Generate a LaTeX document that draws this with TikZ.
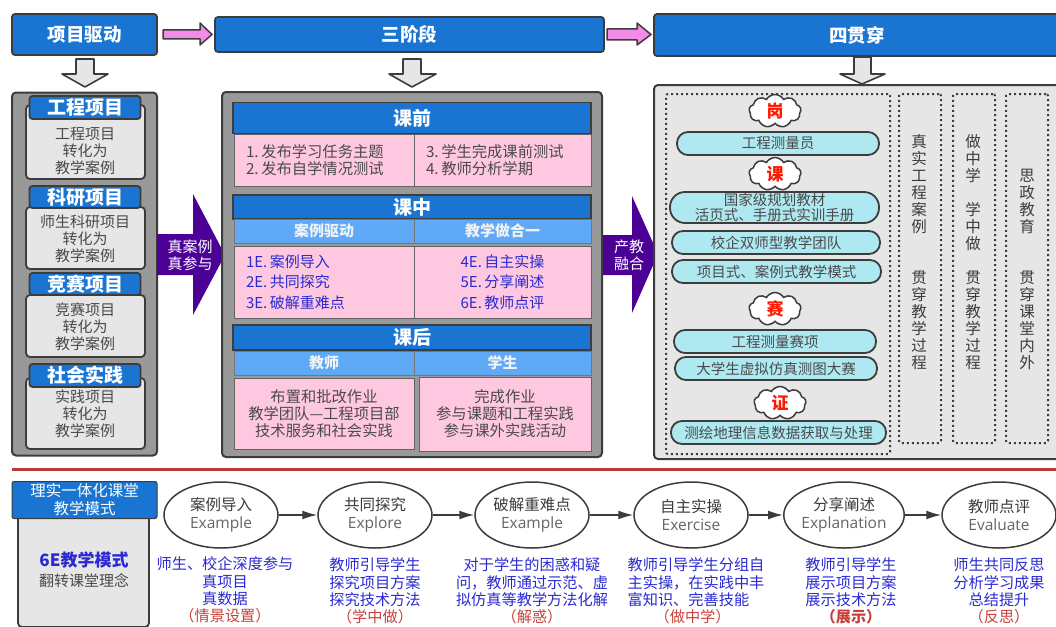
\documentclass[tikz,border=0pt]{standalone}
\usepackage{fontspec}
\setmainfont{Noto Sans CJK SC}
\newfontfamily\enfont{Open Sans}
\usetikzlibrary{shapes.geometric,shapes.symbols,arrows.meta}

\definecolor{boxline}{HTML}{3C3C3C}
\definecolor{headblue}{HTML}{1A75D2}
\definecolor{lightblue}{HTML}{5FA9F6}
\definecolor{panelgray}{HTML}{999999}
\definecolor{softgray}{HTML}{E6E6E6}
\definecolor{cellpink}{HTML}{FFC8E1}
\definecolor{pillcyan}{HTML}{AEE9F2}
\definecolor{bandpurple}{HTML}{4B0096}
\definecolor{arrowpink}{HTML}{F28CE6}
\definecolor{inkgray}{HTML}{4A4A4A}
\definecolor{inkblue}{HTML}{2A2AD2}
\definecolor{inkred}{HTML}{C8403C}

\tikzset{
    topbox/.style={draw=boxline, line width=1.8pt, rounded corners=3pt, fill=headblue, text=white, inner sep=0pt, font=\bfseries\fontsize{18.5}{20}\selectfont},
    tagbox/.style={topbox, font=\bfseries\fontsize{19}{21}\selectfont},
    panel/.style={draw=boxline, line width=2pt, rounded corners=4pt, fill=panelgray, inner sep=0pt},
    softbox/.style={draw=boxline, line width=1.8pt, rounded corners=4pt, fill=softgray, inner sep=0pt},
    plaintext/.style={inner sep=0pt, align=center, text=inkgray, font=\fontsize{15}{17}\selectfont},
    stagebar/.style={draw=boxline, line width=1.5pt, fill=headblue, text=white, inner sep=0pt, font=\bfseries\fontsize{19}{21}\selectfont},
    subbar/.style={draw=boxline!70, line width=1pt, fill=lightblue, text=white!90!gray, inner sep=0pt, font=\bfseries\fontsize{15}{17}\selectfont},
    cell/.style={draw=boxline!80, line width=1pt, fill=cellpink, inner sep=0pt, align=center, text=inkgray, font=\fontsize{15.3}{17}\selectfont},
    leftcell/.style={cell, align=left},
    bluecell/.style={cell, text=inkblue, font=\fontsize{15}{20.5}\selectfont},
    pill/.style={draw=boxline, line width=1.8pt, rounded corners=11pt, fill=pillcyan, inner sep=0pt, align=center, text=inkgray, font=\fontsize{14.5}{15}\selectfont},
    badge/.style={cloud, cloud puffs=9, cloud puff arc=120, aspect=1.6, draw=boxline, line width=1.5pt, fill=white, inner sep=0pt, minimum width=52pt, minimum height=33pt, text=red!80!orange, font=\bfseries\fontsize{17}{19}\selectfont},
    dotbox/.style={draw=boxline, line width=2pt, dash pattern=on 2pt off 3pt, rounded corners=2pt, inner sep=0pt},
    upright/.style={inner sep=0pt, align=center, text=boxline, font=\fontsize{15.5}{17}\selectfont},
    step6e/.style={ellipse, draw=boxline, line width=1.5pt, fill=white, inner sep=0pt, minimum width=114pt, minimum height=66pt, align=center, text=boxline, font=\fontsize{15.5}{18}\selectfont},
    note/.style={inner sep=0pt, align=center, text=inkblue, font=\fontsize{15.2}{17.3}\selectfont},
    flow/.style={draw=boxline, line width=1.6pt, -{Latex[length=15pt,width=9pt]}},
    greyarrow/.style={draw=boxline, line width=1.6pt, fill=softgray, line join=round},
    pinkarrow/.style={draw=boxline, line width=1.5pt, fill=arrowpink, line join=round},
    purplearrow/.style={draw=none, fill=bandpurple},
}

\begin{document}
\begin{tikzpicture}[x=1pt,y=-1pt]
        \useasboundingbox (0,0) rectangle (1056,626);
        \clip (0,0) rectangle (1056,626);

        % Top row
        \node[topbox, minimum width=145pt, minimum height=41pt] (drive) at (84.5,34.5) {项目驱动};
        \node[topbox, minimum width=389pt, minimum height=35pt] (stages) at (409.5,34.5) {三阶段};
        \node[topbox, minimum width=406pt, minimum height=42pt] (threads) at (857,35) {四贯穿};
        \draw[pinkarrow] (163,30) -- (200,30) -- (200,23) -- (212,34.5) -- (200,45) -- (200,39) -- (163,39) -- cycle;
        \draw[pinkarrow] (607,29) -- (637,29) -- (637,23) -- (651,34.5) -- (637,45) -- (637,40) -- (607,40) -- cycle;
        \draw[greyarrow] (76,59) -- (94,59) -- (94,74) -- (108,74) -- (85,87) -- (62,74) -- (76,74) -- cycle;
        \draw[greyarrow] (403,59) -- (421,59) -- (421,74) -- (436,74) -- (412,87) -- (389,74) -- (403,74) -- cycle;
        \draw[greyarrow] (854,57) -- (871,57) -- (871,74) -- (885,74) -- (862,84) -- (840,74) -- (854,74) -- cycle;

        % Left panel
        \node[panel, minimum width=145pt, minimum height=363pt] (leftpanel) at (84.5,274) {};
        \node[softbox, minimum width=119pt, minimum height=74pt] (casebox) at (85.5,142) {};
        \node[tagbox, minimum width=111pt, minimum height=23pt] (casetag) at (85,107.5) {工程项目};
        \node[plaintext] (casetext) at (85,151) {工程项目\\转化为\\教学案例};
        \node[softbox, minimum width=119pt, minimum height=62pt] (researchbox) at (85.5,238) {};
        \node[tagbox, minimum width=111pt, minimum height=22pt] (researchtag) at (85,197) {科研项目};
        \node[plaintext] (researchtext) at (85,239) {师生科研项目\\转化为\\教学案例};
        \node[softbox, minimum width=119pt, minimum height=62pt] (contestbox) at (85.5,326) {};
        \node[tagbox, minimum width=111pt, minimum height=22pt] (contesttag) at (85,284) {竞赛项目};
        \node[plaintext] (contesttext) at (85,327) {竞赛项目\\转化为\\教学案例};
        \node[softbox, minimum width=119pt, minimum height=71pt] (socialbox) at (85.5,413.5) {};
        \node[tagbox, minimum width=111pt, minimum height=23pt] (socialtag) at (85,375.5) {社会实践};
        \node[plaintext] (socialtext) at (85,414) {实践项目\\转化为\\教学案例};

        % Purple arrows
        \draw[purplearrow] (157,234) -- (193,234) -- (193,194) -- (225,255) -- (193,315) -- (193,275) -- (157,275) -- cycle;
        \node[plaintext, text=white] (realcase) at (190,255.5) {真案例\\真参与};
        \draw[purplearrow] (602,235) -- (632,235) -- (632,196) -- (658,254) -- (632,313) -- (632,275) -- (602,275) -- cycle;
        \node[plaintext, text=white] (fusion) at (629,255.5) {产教\\融合};

        % Middle panel
        \node[panel, minimum width=380pt, minimum height=365pt] (midpanel) at (412,274.5) {};
        \node[stagebar, minimum width=358pt, minimum height=31pt] (before) at (412,118) {课前};
        \node[leftcell, text width=156pt, inner xsep=12pt, minimum height=52pt] (beforeleft) at (324,160) {1.\,发布学习任务主题\\2.\,发布自学情况测试};
        \node[leftcell, text width=153pt, inner xsep=12pt, minimum height=52pt] (beforeright) at (502.5,160) {3.\,学生完成课前测试\\4.\,教师分析学期};
        \node[stagebar, minimum width=358pt, minimum height=24pt] (during) at (412,207) {课中};
        \node[subbar, minimum width=180pt, minimum height=24pt] (caseled) at (324,231) {案例驱动};
        \node[subbar, minimum width=177pt, minimum height=24pt] (teachdo) at (502.5,231) {教学做合一};
        \node[bluecell, align=left, text width=156pt, inner xsep=12pt, minimum height=72pt] (duringleft) at (324,282) {1E.\,案例导入\\2E.\,共同探究\\3E.\,破解重难点};
        \node[bluecell, minimum width=177pt, minimum height=72pt] (duringright) at (502.5,282) {4E.\,自主实操\\5E.\,分享阐述\\6E.\,教师点评};
        \node[stagebar, minimum width=358pt, minimum height=25pt] (after) at (412,337.5) {课后};
        \node[subbar, minimum width=180pt, minimum height=24pt] (teacher) at (324,363) {教师};
        \node[subbar, minimum width=177pt, minimum height=24pt] (student) at (502.5,363) {学生};
        \node[cell, minimum width=180pt, minimum height=71pt] (afterleft) at (324,413.5) {布置和批改作业\\教学团队—工程项目部\\技术服务和社会实践};
        \node[cell, minimum width=172pt, minimum height=74pt] (afterright) at (505,414) {完成作业\\参与课题和工程实践\\参与课外实践活动};

        % Right panel
        \node[softbox, line width=2pt, minimum width=406pt, minimum height=374pt] (rightpanel) at (857,272) {};
        \node[dotbox, minimum width=224pt, minimum height=360pt] (dotmain) at (778,274) {};
        \node[dotbox, minimum width=42pt, minimum height=349pt] (dotone) at (920,268.5) {};
        \node[dotbox, minimum width=42pt, minimum height=349pt] (dottwo) at (974,268.5) {};
        \node[dotbox, minimum width=42pt, minimum height=349pt] (dotthree) at (1027,268.5) {};
        \node[upright] (realtext) at (919,252) {真\\实\\工\\程\\案\\例\\ \\ \\贯\\穿\\教\\学\\过\\程};
        \node[upright] (learntext) at (973,252) {做\\中\\学\\ \\学\\中\\做\\ \\贯\\穿\\教\\学\\过\\程};
        \node[upright] (ideotext) at (1027,269) {思\\政\\教\\育\\ \\ \\贯\\穿\\课\\堂\\内\\外};

        % Job, course, contest, certificate
        \node[badge] (gang) at (775,111) {岗};
        \node[pill, minimum width=202pt, minimum height=23pt] (surveyor) at (778,143.5) {工程测量员};
        \node[badge] (ke) at (775,174) {课};
        \node[pill, rounded corners=15pt, minimum width=209pt, minimum height=31pt] (textbook) at (774.5,207.5) {国家级规划教材\\活页式、手册式实训手册};
        \node[pill, minimum width=208pt, minimum height=23pt] (dualteam) at (776,242.5) {校企双师型教学团队};
        \node[pill, minimum width=209pt, minimum height=23pt] (mode) at (776.5,271.5) {项目式、案例式教学模式};
        \node[badge] (sai) at (775,309) {赛};
        \node[pill, minimum width=202pt, minimum height=23pt] (contestitem) at (775,341.5) {工程测量赛项};
        \node[pill, minimum width=202pt, minimum height=23pt] (simcontest) at (776,368.5) {大学生虚拟仿真测图大赛};
        \node[badge] (zheng) at (780,403) {证};
        \node[pill, minimum width=215pt, minimum height=23pt] (geodata) at (778.5,432.5) {测绘地理信息数据获取与处理};

        % Divider
        \draw[inkred!90!black, line width=3pt] (12,469) -- (1056,469);

        % Bottom left
        \node[softbox, minimum width=131pt, minimum height=112pt] (modelbox) at (83.5,571) {};
        \node[topbox, rounded corners=2pt, line width=1pt, minimum width=145pt, minimum height=37pt, align=center, font=\fontsize{15.5}{18}\selectfont] (modeltag) at (84.5,500) {理实一体化课堂\\教学模式};
        \node[plaintext, text=inkblue, font=\bfseries\fontsize{17}{19}\selectfont] (sixe) at (84,560) {6E教学模式};
        \node[plaintext] (flipped) at (84,581) {翻转课堂理念};

        % Six steps
        \node[step6e] (example) at (221,515) {案例导入\\{\color{inkgray!85}\enfont Example}};
        \node[step6e] (explore) at (375,515) {共同探究\\{\color{inkgray!85}\enfont Explore}};
        \node[step6e] (breakdown) at (532,515) {破解重难点\\{\color{inkgray!85}\enfont Example}};
        \node[step6e] (exercise) at (691,515) {自主实操\\{\color{inkgray!85}\enfont Exercise}};
        \node[step6e] (explain) at (844,515) {分享阐述\\{\color{inkgray!85}\enfont Explanation}};
        \node[step6e] (evaluate) at (999,515) {教师点评\\{\color{inkgray!85}\enfont Evaluate}};
        \draw[flow] (example.east) -- (explore.west);
        \draw[flow] (explore.east) -- (breakdown.west);
        \draw[flow] (breakdown.east) -- (exercise.west);
        \draw[flow] (exercise.east) -- (explain.west);
        \draw[flow] (explain.east) -- (evaluate.west);

        % Notes under the steps
        \node[note] (noteone) at (225,590) {师生、校企深度参与\\真项目\\真数据\\{\color{inkred}（情景设置）}};
        \node[note] (notetwo) at (375,591) {教师引导学生\\探究项目方案\\探究技术方法\\{\color{inkred}（学中做）}};
        \node[note] (notethree) at (532,591) {对于学生的困惑和疑\\问，教师通过示范、虚\\拟仿真等教学方法化解\\{\color{inkred}（解惑）}};
        \node[note, align=left] (notefour) at (696,591) {教师引导学生分组自\\主实操，在实践中丰\\富知识、完善技能\\\hspace*{27pt}{\color{inkred}（做中学）}};
        \node[note] (notefive) at (851,591) {教师引导学生\\展示项目方案\\展示技术方法\\{\color{inkred}\bfseries（展示）}};
        \node[note] (notesix) at (999,591) {师生共同反思\\分析学习成果\\总结提升\\{\color{inkred}（反思）}};
    \end{tikzpicture}
\end{document}
